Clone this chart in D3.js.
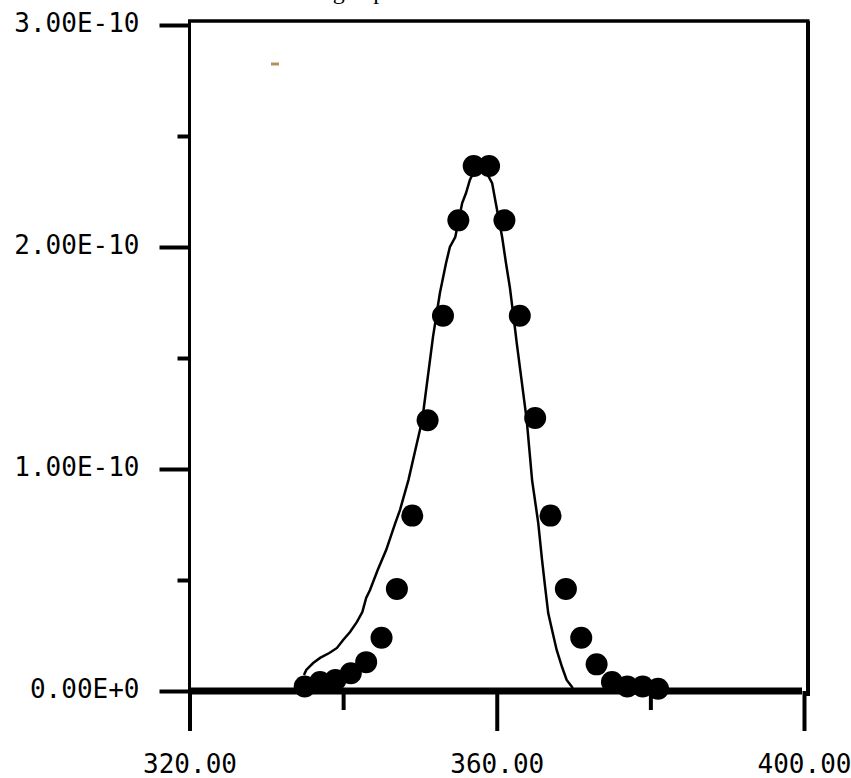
<!DOCTYPE html>
<meta charset="utf-8">
<script src="https://cdn.jsdelivr.net/npm/d3@7/dist/d3.min.js"></script>
<style type="text/css">
    body {
        margin: 0;
        background: #fff;
    }

    .tick text {
        font-family: "DejaVu Sans Mono", monospace;
        font-size: 26px;
        fill: #000;
    }

    .title {
        font-family: "Liberation Serif", serif;
        font-size: 24px;
    }
</style>

<body>
    <script type="text/javascript">
        // measured points (x in nm, y in units of 1e-11)
        var pointX = [335, 337, 339, 341, 343, 345, 347, 349, 351, 353, 355, 357,
            359, 361, 363, 365, 367, 369, 371, 373, 375, 377, 379, 381];
        var pointY = [0.2, 0.4, 0.5, 0.8, 1.3, 2.4, 4.6, 7.9, 12.2, 16.9, 21.2, 23.65,
            23.65, 21.2, 16.9, 12.3, 7.9, 4.6, 2.4, 1.2, 0.4, 0.2, 0.2, 0.1];

        // fitted curve (x in nm, y in units of 1e-10)
        var fitX = [334.9, 335.2, 336.1, 337.0, 338.2, 339.2, 340.0, 340.9, 341.8, 342.5, 343.0, 343.5,
            344.5, 345.6, 346.8, 347.4, 348.5, 349.4, 350.3, 351.7, 352.6, 353.4, 353.9, 354.6,
            355.5, 356.0, 356.5, 357.8, 359.4, 359.8, 360.7, 361.2, 361.7, 362.4, 362.6, 363.9,
            364.6, 365.4, 365.9, 366.3, 366.7, 367.2, 367.8, 368.5, 369.1, 369.9];
        var fitY = [0.072, 0.095, 0.126, 0.149, 0.171, 0.194, 0.230, 0.266, 0.311, 0.356, 0.419, 0.455,
            0.545, 0.635, 0.757, 0.815, 0.950, 1.086, 1.221, 1.595, 1.793, 1.928, 2.000, 2.045,
            2.198, 2.243, 2.302, 2.392, 2.288, 2.212, 2.045, 1.928, 1.820, 1.626, 1.568, 1.221,
            0.950, 0.757, 0.590, 0.468, 0.351, 0.275, 0.185, 0.108, 0.050, 0.014];

        var xMajor = [320, 360, 400];
        var xMinor = [340, 380];
        var yMajor = [0, 1e-10, 2e-10, 3e-10];
        var yMinor = [0.5e-10, 1.5e-10, 2.5e-10];

        var width = 851, height = 778;

        var svg = d3.select("body").append("svg")
            .attr("width", width)
            .attr("height", height);

        var xScale = d3.scaleLinear()
            .domain([320, 400])
            .range([189.5, 804]);

        var yScale = d3.scaleLinear()
            .domain([0, 3e-10])
            .range([691, 25]);

        var fmt = function (d) { return d.toExponential(2).toUpperCase(); };

        // title, only its descenders remain in view
        svg.append("text")
            .attr("class", "title")
            .attr("x", 282)
            .attr("y", -1)
            .text("Nitrogen peak");

        // frame top and right
        svg.append("line")
            .attr("x1", xScale(320) - 1.5).attr("x2", xScale(400) + 5.5)
            .attr("y1", 21).attr("y2", 21)
            .style("stroke", "#000").style("stroke-width", 3.5);
        svg.append("line")
            .attr("x1", xScale(400) + 4).attr("x2", xScale(400) + 4)
            .attr("y1", 21).attr("y2", yScale(0) + 5)
            .style("stroke", "#000").style("stroke-width", 4);

        // y axis
        var yAxis = svg.append("g")
            .attr("transform", "translate(" + xScale(320) + ",0)")
            .call(d3.axisLeft(yScale).tickValues(yMajor).tickSize(30).tickPadding(20).tickFormat(fmt));
        yAxis.select(".domain").remove();
        yAxis.selectAll(".tick line").style("stroke-width", 4);
        yAxis.selectAll(".tick text").attr("dy", "0.26em");

        var yAxisMinor = svg.append("g")
            .attr("transform", "translate(" + xScale(320) + ",0)")
            .call(d3.axisLeft(yScale).tickValues(yMinor).tickSize(12).tickFormat(""));
        yAxisMinor.select(".domain").remove();
        yAxisMinor.selectAll(".tick line").style("stroke-width", 4);

        svg.append("line")
            .attr("x1", xScale(320)).attr("x2", xScale(320))
            .attr("y1", 20).attr("y2", yScale(0))
            .style("stroke", "#000").style("stroke-width", 3);

        // x axis
        var xAxis = svg.append("g")
            .attr("transform", "translate(0," + yScale(0) + ")")
            .call(d3.axisBottom(xScale).tickValues(xMajor).tickSize(40).tickPadding(0).tickFormat(d3.format(".2f")));
        xAxis.select(".domain").remove();
        xAxis.selectAll(".tick line").style("stroke-width", 4);
        xAxis.selectAll(".tick text").attr("y", 82).attr("dy", 0);

        var xAxisMinor = svg.append("g")
            .attr("transform", "translate(0," + yScale(0) + ")")
            .call(d3.axisBottom(xScale).tickValues(xMinor).tickSize(19).tickFormat(""));
        xAxisMinor.select(".domain").remove();
        xAxisMinor.selectAll(".tick line").style("stroke-width", 4);

        svg.append("line")
            .attr("x1", xScale(320)).attr("x2", xScale(400) - 2)
            .attr("y1", yScale(0)).attr("y2", yScale(0))
            .style("stroke", "#000").style("stroke-width", 7);

        // stray mark left of the plot
        svg.append("line")
            .attr("x1", 271).attr("x2", 279)
            .attr("y1", 64).attr("y2", 64)
            .style("stroke", "#b7905a").style("stroke-width", 3);

        // fitted curve
        var fit = fitX.map(function (d, i) { return { x: d, y: fitY[i] * 1e-10 }; });
        var line = d3.line()
            .x(function (d) { return xScale(d.x); })
            .y(function (d) { return yScale(d.y); });

        svg.append("path")
            .datum(fit)
            .attr("d", line)
            .style("fill", "none")
            .style("stroke", "#000")
            .style("stroke-width", 2.5);

        // measured points
        var pts = pointX.map(function (d, i) { return { x: d, y: pointY[i] * 1e-11 }; });
        svg.selectAll(".dot")
            .data(pts)
            .enter().append("circle")
            .attr("class", "dot")
            .attr("cx", function (d) { return xScale(d.x); })
            .attr("cy", function (d) { return yScale(d.y); })
            .attr("r", 11)
            .style("fill", "#000");
    </script>
</body>

</html>
